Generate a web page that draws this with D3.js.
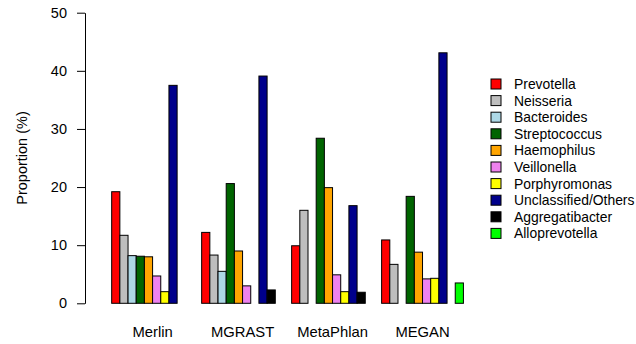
<!DOCTYPE html>
<html><head><meta charset="utf-8">
<script src="https://cdn.jsdelivr.net/npm/d3@7"></script>
<style>body{margin:0;background:#fff;} text{font-family:"Liberation Sans",Arial,sans-serif;}</style>
</head><body>
<svg id="c" width="636" height="344"></svg>
<script>
const groups = ["Merlin", "MGRAST", "MetaPhlan", "MEGAN"];
const series = ["Prevotella","Neisseria","Bacteroides","Streptococcus","Haemophilus","Veillonella","Porphyromonas","Unclassified/Others","Aggregatibacter","Alloprevotella"];
const colors = ["#ff0000","#bebebe","#add8e6","#006400","#ffa500","#ee82ee","#ffff00","#00008b","#000000","#00ff00"];
// values[series][group]
const Prevotella      = [19.2, 12.2,  9.9, 10.9];
const Neisseria       = [11.7,  8.3, 16.0,  6.7];
const Bacteroides     = [ 8.2,  5.5,  0.0,  0.0];
const Streptococcus   = [ 8.1, 20.6, 28.4, 18.4];
const Haemophilus     = [ 8.0,  9.0, 19.9,  8.8];
const Veillonella     = [ 4.7,  3.0,  4.9,  4.2];
const Porphyromonas   = [ 2.0,  0.0,  2.0,  4.3];
const Unclassified    = [37.5, 39.1, 16.8, 43.1];
const Aggregatibacter = [ 0.0,  2.3,  1.9,  0.0];
const Alloprevotella  = [ 0.0,  0.0,  0.0,  3.5];
const values = [Prevotella,Neisseria,Bacteroides,Streptococcus,Haemophilus,Veillonella,Porphyromonas,Unclassified,Aggregatibacter,Alloprevotella];
const yTicks = [0,10,20,30,40,50];

const svg = d3.select("#c");
const y = d3.scaleLinear().domain([0,50]).range([303.3,12.7]);
// R barplot style positions: each group occupies 11 units (1 space + 10 bars)
const u = 8.18, x0 = 103.5;
const x = d3.scaleLinear().domain([0,44]).range([x0, x0 + 44*u]);

groups.forEach((g,gi)=>{
  series.forEach((s,si)=>{
    const v = values[si][gi];
    const l = x(gi*11 + 1 + si), r = x(gi*11 + 2 + si);
    svg.append("rect")
      .attr("x", l).attr("y", y(v))
      .attr("width", r-l).attr("height", y(0)-y(v))
      .attr("fill", colors[si]).attr("stroke","#000").attr("stroke-width",1);
  });
  svg.append("text").attr("x", x(gi*11+6)).attr("y", 337)
    .attr("text-anchor","middle").attr("font-size",14.8).text(g);
});

const ax = svg.append("g").attr("transform","translate(85,0)")
  .call(d3.axisLeft(y).tickValues(yTicks).tickSize(8).tickPadding(10).tickSizeOuter(0));
ax.select(".domain").attr("stroke","#000");
ax.selectAll(".tick line").attr("stroke","#000");
ax.selectAll(".tick text").attr("font-size",14.5).attr("font-family","Liberation Sans, Arial, sans-serif").attr("fill","#000");

svg.append("text").attr("transform","translate(27,158) rotate(-90)")
  .attr("text-anchor","middle").attr("font-size",14.5).text("Proportion (%)");

const leg = svg.append("g");
series.forEach((s,si)=>{
  const cy = 84 + si*16.6;
  leg.append("rect").attr("x",491).attr("y",cy-5).attr("width",10).attr("height",10)
    .attr("fill",colors[si]).attr("stroke","#000").attr("stroke-width",1);
  leg.append("text").attr("x",514).attr("y",cy+5).attr("font-size",13.9).text(s);
});
</script>
</body></html>
